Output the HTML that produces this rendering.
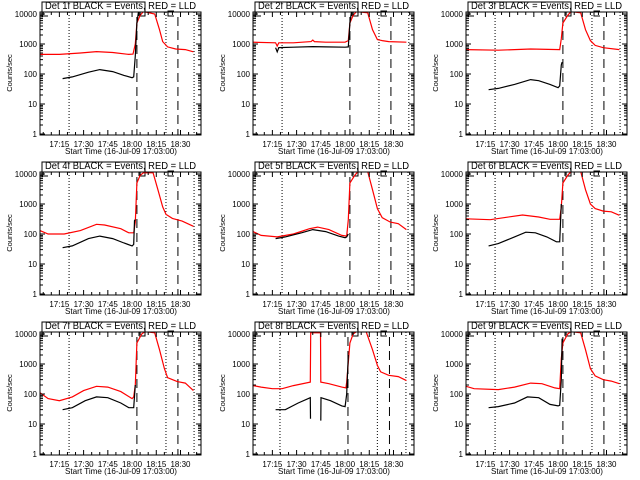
<!DOCTYPE html>
<html><head><meta charset="utf-8"><style>
html,body{margin:0;padding:0;background:#fff;}
svg{display:block;font-family:"Liberation Sans",sans-serif;}
</style></head><body>
<svg id="chart" width="640" height="480" viewBox="0 0 640 480" xmlns="http://www.w3.org/2000/svg">
<rect width="640" height="480" fill="#fff"/>
</svg>
<script>
// minutes since 17:03:00
const detectorNames = ['1f','2f','3f','4f','5f','6f','7f','8f','9f'];
const redTimes = [
 [0,12,25,35,45,55,57.6,59,60,62,64,71,74,76,79,84,90,95],
 [0,14,15,16,25,36,37,38,45,57,59,60,62,64,71,74,77,80,84,95],
 [0,20,40,58,59,60,63,65,71,74,77,80,85,95],
 [0,5,15,25,35,40,50,55,58,59,60,62,64,70,73,76,78,82,88,95],
 [0,5,15,25,35,40,47,55,58,59,60,63,65,71,74,77,80,85,90,95],
 [0,15,25,35,45,52,58,59,60,63,65,71,74,77,80,85,90,95],
 [0,5,12,20,27,35,42,50,57,58,59,60,63,65,71,74,77,79,85,90,95],
 [0,5,12,18,25,35.5,35.7,41.8,42,47,55,57.5,58,60,62,64,70,74,77,79,84,90,95],
 [0,5,20,30,40,47,55,58,59,60,63,65,71,74,77,80,85,90,95]
];
const redValues = [
 [450,450,500,560,520,450,460,1000,5000,9000,12000,10000,3000,1200,800,680,650,550],
 [1150,1100,850,1100,1100,1200,1350,1200,1150,1150,1300,5000,9000,12000,11000,3000,1400,1300,1200,1150],
 [650,620,680,650,1500,5000,9000,12000,11000,3000,1300,900,750,650],
 [130,100,100,130,210,200,150,110,110,250,5000,9000,11000,11000,3000,800,450,330,270,180],
 [120,90,80,100,150,170,140,90,85,300,5000,9000,12000,12000,3000,700,350,250,220,140],
 [320,300,360,430,370,310,310,800,5000,9000,12000,12000,3000,1000,700,580,550,420],
 [110,70,60,80,130,180,170,120,70,80,200,5000,10000,12000,11000,3000,700,350,260,230,130],
 [190,170,150,150,190,250,11000,11000,250,220,170,160,250,5000,10000,12000,12000,3000,900,550,420,380,280],
 [180,150,140,170,230,220,160,150,1500,5000,10000,12000,11000,3000,700,400,300,270,220]
];
const blackTimes = [
 [14,20,30,37,45,52,57,58,59,60,61],
 [14,15,16,25,37,45,57,59,60,61],
 [14,20,30,40,45,52,57,58,59,59.5],
 [14,20,30,37,45,52,57,58,58.5,59],
 [14,20,30,37,45,53,57,58,59],
 [14,20,30,37,43,50,56,58,59],
 [14,20,28,35,42,50,55,58,59],
 [14,20,28,35.5,35.6,null,42,42.1,48,55,57,58,59],
 [14,20,30,38,45,52,57,58,59,59.5]
];
const blackValues = [
 [70,80,115,140,120,90,75,80,400,5000,12000],
 [750,550,760,780,820,800,780,800,5000,12000],
 [30,33,45,65,60,45,35,40,200,250],
 [35,40,70,85,70,50,40,45,280,300],
 [70,80,110,140,120,85,75,80,100],
 [40,48,80,115,110,80,55,55,1000],
 [30,35,60,80,75,50,35,35,200],
 [30,30,50,75,15,null,13,75,60,40,38,100,2000],
 [35,38,50,80,75,45,40,42,300,7000]
];
const dottedTimes = [[18,78,95.4],[18,78,96.5],[18,78,95.4],[18,78,95.4],[18,78,96],[18,78,95.4],[18,78,95.4],[16.7,77,94.7],[18,78,95.4]];
const dashedTimes = [[60,85.4],[60,85.4],[60,85.4],[60,85.4],[60,85.4],[60,85.4],[60,85.4],[58.8,84.5],[60,85.4]];
const yTickValues = [1,10,100,1000,10000];
const yTickLabels = ['1','10','100','1000','10000'];
const xTickTimes = [12,27,42,57,72,87];
const xTickLabels = ['17:15','17:30','17:45','18:00','18:15','18:30'];

const NS='http://www.w3.org/2000/svg';
const svg=document.getElementById('chart');
const L=40,R=201,T=12,B=135;
function xs(t){return L+1.615*t;}
function ys(v){return 134-30*Math.log10(v);}
function mk(tag,attrs,parent){const e=document.createElementNS(NS,tag);for(const k in attrs)e.setAttribute(k,attrs[k]);parent.appendChild(e);return e;}
function pathFrom(ts,vs){let d='',pen=false;for(let i=0;i<ts.length;i++){if(ts[i]===null||vs[i]===null){pen=false;continue;}d+=(pen?'L':'M')+xs(ts[i]).toFixed(1)+','+ys(vs[i]).toFixed(1);pen=true;}return d;}

const defs=mk('defs',{},svg);
const cp=mk('clipPath',{id:'plotclip'},defs);
mk('rect',{x:L,y:T,width:R-L,height:B-T},cp);

for(let p=0;p<9;p++){
 const ox=[0,213,426][p%3], oy=[0,160,320][Math.floor(p/3)];
 const g=mk('g',{transform:`translate(${ox},${oy})`},svg);
 
 
 // title
 const ti=mk('text',{x:120.5,y:9,'text-anchor':'middle','font-size':10,textLength:151,lengthAdjust:'spacingAndGlyphs'},g);
 ti.textContent='Det '+detectorNames[p]+' BLACK = Events, RED = LLD';
 
 
 // vertical lines
 dottedTimes[p].forEach(t=>{const l=mk('line',{x1:xs(t),x2:xs(t),y1:T,y2:B,stroke:'#000','stroke-width':1,'stroke-dasharray':'1 2'},g);
  
  });
 dashedTimes[p].forEach(t=>{const l=mk('line',{x1:xs(t),x2:xs(t),y1:17,y2:B,stroke:'#000','stroke-width':1,'stroke-dasharray':'9 5'},g);
  
  });
 // attenuator state bracket
 const br=mk('path',{d:'M48,16H42V2H145V16H139 M144,12H139V16 M174,11H168V16H174',fill:'none',stroke:'#000','stroke-width':1},g);
 
 
 // series
 const s=mk('g',{'clip-path':'url(#plotclip)'},g);
 const rp=mk('path',{d:pathFrom(redTimes[p],redValues[p]),fill:'none',stroke:'#ff0000','stroke-width':1.2},s);
 
 
 const bp=mk('path',{d:pathFrom(blackTimes[p],blackValues[p]),fill:'none',stroke:'#000','stroke-width':1.2},s);
 
 
 // box
 const bx=mk('rect',{x:L,y:T,width:R-L,height:B-T,fill:'none',stroke:'#000','stroke-width':1},g);
 
 
 // y ticks
 let td='';
 for(let d=0;d<5;d++){
  const y=ys(yTickValues[d]);
  td+=`M${L},${y}h5M${R},${y}h-5`;
  if(d<4)for(let m=2;m<10;m++){const ym=ys(yTickValues[d]*m);td+=`M${L},${ym}h3M${R},${ym}h-3`;}
  const tl=mk('text',{x:37,y:y+3,'text-anchor':'end','font-size':8},g);
  tl.textContent=yTickLabels[d];
  
  
 }
 for(let t=2;t<=97;t+=5){const x=xs(t);const major=((t-12)%15===0);const len=major?5:3;td+=`M${x},${B}v-${len}M${x},${T}v${len}`;}
 const tk=mk('path',{d:td,stroke:'#000','stroke-width':1,fill:'none'},g);
 
 
 xTickTimes.forEach((t,i)=>{const tl=mk('text',{x:xs(t),y:147,'text-anchor':'middle','font-size':8},g);
  tl.textContent=xTickLabels[i];
  
  });
 const xl=mk('text',{x:121,y:154,'text-anchor':'middle','font-size':8.5,textLength:112,lengthAdjust:'spacingAndGlyphs'},g);
 xl.textContent='Start Time (16-Jul-09 17:03:00)';
 
 
 const yl=mk('text',{x:0,y:0,'text-anchor':'middle','font-size':7.5,transform:'translate(12,73) rotate(-90)'},g);
 yl.textContent='Counts/sec';
 
 
}
</script>
</body></html>
